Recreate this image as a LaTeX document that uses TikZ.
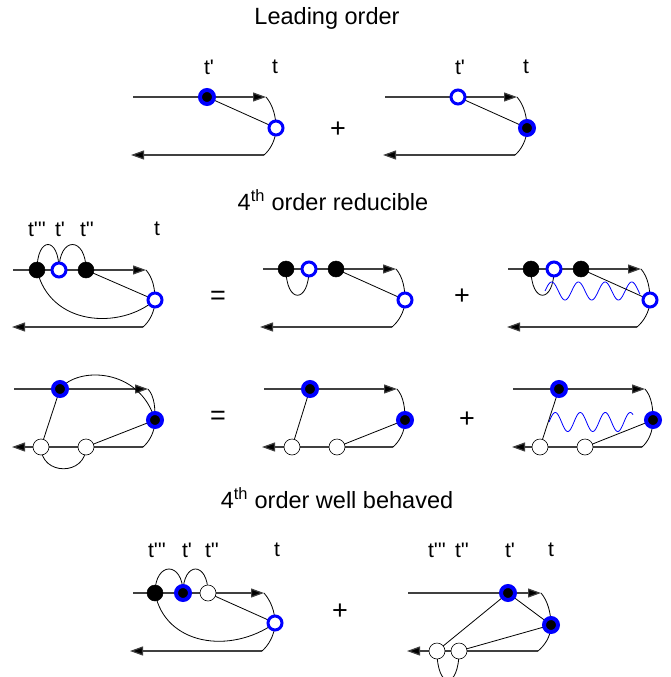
\documentclass[tikz,border=0pt]{standalone}
\usepackage{fontspec}
\setmainfont{Liberation Sans}
\usetikzlibrary{arrows.meta}
\newcommand\pq{\textquotesingle}
\newcommand\rcurve[3]{\draw[cn] (#1) .. controls +(7,8) and +(0,-11) .. (#2) .. controls +(0,12) and +(6,-5) .. (#3);}
\begin{document}
\begin{tikzpicture}[x=1pt,y=-1pt,
 fl/.style={line width=1.2pt, draw=black!75},
 arr/.style={fl,-{Triangle[length=13pt,width=9pt,fill=black]}},
 cn/.style={line width=0.8pt,draw=black},
 bf/.style={circle,fill=black,draw=blue,line width=4pt,minimum size=14pt,inner sep=0pt},
 bo/.style={circle,fill=white,draw=blue,line width=3pt,minimum size=14pt,inner sep=0pt},
 kf/.style={circle,fill=black,draw=black,line width=0.5pt,minimum size=16pt,inner sep=0pt},
 wo/.style={circle,fill=white,draw=black,line width=0.6pt,minimum size=16pt,inner sep=0pt},
 lab/.style={font=\fontsize{21}{24}\selectfont},
 ttl/.style={font=\fontsize{23.5}{26}\selectfont},
 op/.style={font=\fontsize{27}{30}\selectfont},
 wave/.style={blue,line width=0.8pt}]
\useasboundingbox (0,0) rectangle (670,677);

% ---------- titles ----------
\node[ttl] (title1) at (327,18) {Leading order};
\node[ttl] (title2) at (333,200) {4\textsuperscript{th} order reducible};
\node[ttl] (title3) at (337,498) {4\textsuperscript{th} order well behaved};

% ---------- D1 ----------
\coordinate (a1s) at (133,97); \coordinate (a1e) at (266,97);
\coordinate (b1s) at (264,155); \coordinate (b1e) at (131,155);
\coordinate (p1) at (207,97); \coordinate (q1) at (276,128);
\draw[arr] (a1s) -- (a1e);
\draw[arr] (b1s) -- (b1e);
\rcurve{a1e}{q1}{b1s}
\draw[cn] (p1) -- (q1);
\node[bf] (n1a) at (p1) {};
\node[bo] (n1b) at (q1) {};
\node[lab] (l1a) at (209,67) {t\pq};
\node[lab] (l1b) at (275,67) {t};
\node[op] (plus1) at (338,130) {+};

% ---------- D2 ----------
\coordinate (a2s) at (385,97); \coordinate (a2e) at (517,97);
\coordinate (b2s) at (515,155); \coordinate (b2e) at (383,155);
\coordinate (p2) at (458,97); \coordinate (q2) at (527,128);
\draw[arr] (a2s) -- (a2e);
\draw[arr] (b2s) -- (b2e);
\rcurve{a2e}{q2}{b2s}
\draw[cn] (p2) -- (q2);
\node[bo] (n2a) at (p2) {};
\node[bf] (n2b) at (q2) {};
\node[lab] (l2a) at (460,67) {t\pq};
\node[lab] (l2b) at (526,67) {t};

% ---------- D3 ----------
\coordinate (a3s) at (13,270); \coordinate (a3e) at (146,270);
\coordinate (b3s) at (143,327); \coordinate (b3e) at (12,327);
\coordinate (p3a) at (37,270); \coordinate (p3b) at (59,270); \coordinate (p3c) at (86,270);
\coordinate (q3) at (155,300);
\draw[arr] (a3s) -- (a3e);
\draw[arr] (b3s) -- (b3e);
\rcurve{a3e}{q3}{b3s}
\draw[cn] (p3a) .. controls +(0,-34) and +(0,-34) .. (p3b);
\draw[cn] (p3b) .. controls +(0,-34) and +(0,-34) .. (p3c);
\draw[cn] (p3a) .. controls (50,326) and (120,330) .. (q3);
\draw[cn] (p3c) -- (q3);
\node[kf] (n3a) at (p3a) {};
\node[bo] (n3b) at (p3b) {};
\node[kf] (n3c) at (p3c) {};
\node[bo] (n3d) at (q3) {};
\node[lab] (l3a) at (37,229) {t\pq\pq\pq};
\node[lab] (l3b) at (60,229) {t\pq};
\node[lab] (l3c) at (87,229) {t\pq\pq};
\node[lab] (l3d) at (157,229) {t};
\node[op] (eq1) at (218,298) {=};

% ---------- D4 ----------
\coordinate (a4s) at (263,269); \coordinate (a4e) at (396,269);
\coordinate (b4s) at (392,327); \coordinate (b4e) at (260,327);
\coordinate (p4a) at (286,269); \coordinate (p4b) at (309,269); \coordinate (p4c) at (336,269);
\coordinate (q4) at (405,300);
\draw[arr] (a4s) -- (a4e);
\draw[arr] (b4s) -- (b4e);
\rcurve{a4e}{q4}{b4s}
\draw[cn] (p4a) .. controls +(0,35) and +(0,35) .. (p4b);
\draw[cn] (p4c) -- (q4);
\node[kf] (n4a) at (p4a) {};
\node[bo] (n4b) at (p4b) {};
\node[kf] (n4c) at (p4c) {};
\node[bo] (n4d) at (q4) {};
\node[op] (plus2) at (462,297) {+};

% ---------- D5 ----------
\coordinate (a5s) at (508,269); \coordinate (a5e) at (641,269);
\coordinate (b5s) at (637,327); \coordinate (b5e) at (507,327);
\coordinate (p5a) at (531,269); \coordinate (p5b) at (554,269); \coordinate (p5c) at (581,269);
\coordinate (q5) at (650,300);
\draw[arr] (a5s) -- (a5e);
\draw[arr] (b5s) -- (b5e);
\rcurve{a5e}{q5}{b5s}
\draw[cn] (p5a) .. controls +(0,35) and +(0,35) .. (p5b);
\draw[wave] plot[domain=0:95, samples=140] ({545+\x}, {291-9*sin(\x*13.483)});
\draw[cn] (p5c) -- (q5);
\node[kf] (n5a) at (p5a) {};
\node[bo] (n5b) at (p5b) {};
\node[kf] (n5c) at (p5c) {};
\node[bo] (n5d) at (q5) {};

% ---------- D6 ----------
\coordinate (a6s) at (14,389); \coordinate (a6e) at (148,389);
\coordinate (b6s) at (143,447); \coordinate (b6e) at (12,447);
\coordinate (p6) at (60,389); \coordinate (q6) at (155,420);
\coordinate (w6a) at (41,447); \coordinate (w6b) at (86,447);
\draw[arr] (a6s) -- (a6e);
\draw[arr] (b6s) -- (b6e);
\rcurve{a6e}{q6}{b6s}
\draw[cn] (p6) .. controls (78,366) and (140,368) .. (q6);
\draw[cn] (w6a) .. controls +(0,29) and +(0,29) .. (w6b);
\draw[cn] (p6) -- (w6a);
\draw[cn] (q6) -- (w6b);
\node[bf] (n6a) at (p6) {};
\node[bf] (n6b) at (q6) {};
\node[wo] (n6c) at (w6a) {};
\node[wo] (n6d) at (w6b) {};
\node[op] (eq2) at (218,418) {=};

% ---------- D7 ----------
\coordinate (a7s) at (264,389); \coordinate (a7e) at (397,389);
\coordinate (b7s) at (393,447); \coordinate (b7e) at (262,447);
\coordinate (p7) at (310,389); \coordinate (q7) at (405,420);
\coordinate (w7a) at (292,447); \coordinate (w7b) at (337,447);
\draw[arr] (a7s) -- (a7e);
\draw[arr] (b7s) -- (b7e);
\rcurve{a7e}{q7}{b7s}
\draw[cn] (p7) -- (w7a);
\draw[cn] (q7) -- (w7b);
\node[bf] (n7a) at (p7) {};
\node[bf] (n7b) at (q7) {};
\node[wo] (n7c) at (w7a) {};
\node[wo] (n7d) at (w7b) {};
\node[op] (plus3) at (467,420) {+};

% ---------- D8 ----------
\coordinate (a8s) at (513,389); \coordinate (a8e) at (645,389);
\coordinate (b8s) at (642,447); \coordinate (b8e) at (512,447);
\coordinate (p8) at (559,389); \coordinate (q8) at (653,420);
\coordinate (w8a) at (540,447); \coordinate (w8b) at (585,447);
\draw[arr] (a8s) -- (a8e);
\draw[arr] (b8s) -- (b8e);
\rcurve{a8e}{q8}{b8s}
\draw[wave] plot[domain=0:84, samples=140] ({549+\x}, {422-9.5*sin(\x*14.4)});
\draw[cn] (p8) -- (w8a);
\draw[cn] (q8) -- (w8b);
\node[bf] (n8a) at (p8) {};
\node[bf] (n8b) at (q8) {};
\node[wo] (n8c) at (w8a) {};
\node[wo] (n8d) at (w8b) {};

% ---------- D9 ----------
\coordinate (a9s) at (133,593); \coordinate (a9e) at (264,593);
\coordinate (b9s) at (262,651); \coordinate (b9e) at (130,651);
\coordinate (p9a) at (155,593); \coordinate (p9b) at (183,593); \coordinate (p9c) at (208,593);
\coordinate (q9) at (275,623);
\draw[arr] (a9s) -- (a9e);
\draw[arr] (b9s) -- (b9e);
\rcurve{a9e}{q9}{b9s}
\draw[cn] (p9a) .. controls +(0,-32) and +(0,-32) .. (p9b);
\draw[cn] (p9b) .. controls +(0,-32) and +(0,-32) .. (p9c);
\draw[cn] (p9a) .. controls (165,645) and (230,655) .. (q9);
\draw[cn] (p9c) -- (q9);
\node[kf] (n9a) at (p9a) {};
\node[bf] (n9b) at (p9b) {};
\node[wo] (n9c) at (p9c) {};
\node[bo] (n9d) at (q9) {};
\node[lab] (l9a) at (157,550) {t\pq\pq\pq};
\node[lab] (l9b) at (187,550) {t\pq};
\node[lab] (l9c) at (212,550) {t\pq\pq};
\node[lab] (l9d) at (277,550) {t};
\node[op] (plus4) at (340,612) {+};

% ---------- D10 ----------
\coordinate (a10s) at (408,593); \coordinate (a10e) at (541,593);
\coordinate (b10s) at (538,651); \coordinate (b10e) at (407,651);
\coordinate (p10) at (508,593); \coordinate (q10) at (551,625);
\coordinate (w10a) at (437,651); \coordinate (w10b) at (459,651);
\draw[arr] (a10s) -- (a10e);
\draw[arr] (b10s) -- (b10e);
\rcurve{a10e}{q10}{b10s}
\draw[cn] (w10a) .. controls +(0,39) and +(0,39) .. (w10b);
\draw[cn] (p10) -- (w10a);
\draw[cn] (p10) -- (q10);
\draw[cn] (q10) -- (w10b);
\node[bf] (n10a) at (p10) {};
\node[bf] (n10b) at (q10) {};
\node[wo] (n10c) at (w10a) {};
\node[wo] (n10d) at (w10b) {};
\node[lab] (l10a) at (437,550) {t\pq\pq\pq};
\node[lab] (l10b) at (462,550) {t\pq\pq};
\node[lab] (l10c) at (510,550) {t\pq};
\node[lab] (l10d) at (551,550) {t};
\end{tikzpicture}
\end{document}
